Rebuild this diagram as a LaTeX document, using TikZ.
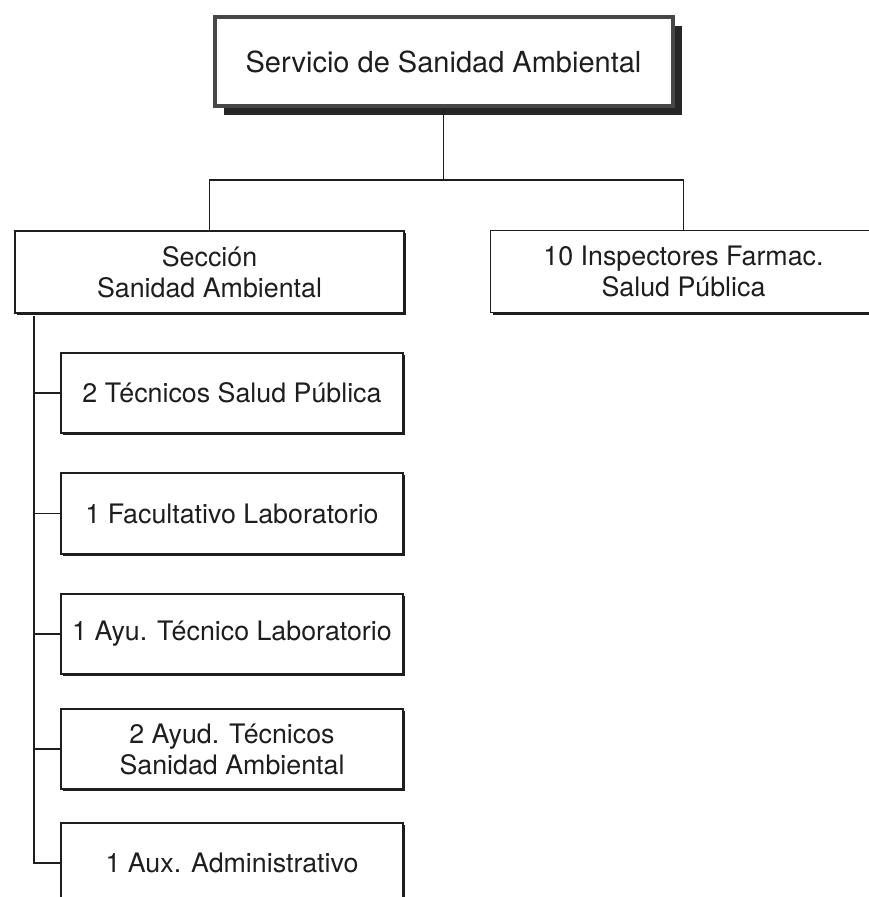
\documentclass[tikz,border=0pt]{standalone}
\usepackage{fontspec}
\setmainfont{TeX Gyre Heros}
\usetikzlibrary{shadows}
\definecolor{ink}{HTML}{1E1E1E}
\begin{document}
\begin{tikzpicture}[x=1pt,y=-1pt,
  box/.style={draw=ink, line width=1.6pt, fill=white, inner sep=0pt, align=center,
    font=\fontsize{26.8}{31}\selectfont, text=ink,
    drop shadow={shadow xshift=2.2pt, shadow yshift=-2.2pt, fill=ink, opacity=1}},
  titlebox/.style={draw=black!72, line width=4pt, fill=white, inner sep=0pt, align=center,
    font=\fontsize{29}{34}\selectfont, text=ink,
    drop shadow={shadow xshift=9pt, shadow yshift=-9pt, fill=black!85, opacity=1}},
  conn/.style={draw=ink, line width=1.6pt}]
\useasboundingbox (0,0) rectangle (869,897);
\clip (0,0) rectangle (869,897);

\node[titlebox, minimum width=458pt, minimum height=89pt] (top) at (443.5,61.5) {Servicio de Sanidad Ambiental};

\node[box, minimum width=389.5pt, minimum height=82.5pt] (sec) at (209.5,272) {Sección\\Sanidad Ambiental};
\node[box, minimum width=386pt, minimum height=82pt] (insp) at (683.5,271.5) {10 Inspectores Farmac.\\Salud Pública};

\node[box, minimum width=342.5pt, minimum height=80.5pt] (b1) at (232,393) {2 Técnicos Salud Pública};
\node[box, minimum width=342.5pt, minimum height=81.5pt] (b2) at (232,513.5) {1 Facultativo Laboratorio};
\node[box, minimum width=342.5pt, minimum height=80.5pt] (b3) at (232,634) {1 Ayu. Técnico Laboratorio};
\node[box, minimum width=342.5pt, minimum height=80.5pt] (b4) at (232,749) {2 Ayud. Técnicos\\Sanidad Ambiental};
\node[box, minimum width=342.5pt, minimum height=80.5pt] (b5) at (232,863) {1 Aux. Administrativo};

\coordinate (busy) at (0,180);
\coordinate (spine) at (34,316);

\draw[conn] (top.south) -- (top.south |- busy);
\draw[conn] (sec.north) |- (busy -| insp.north) -- (insp.north);

\draw[conn] (spine) |- (b5.west);
\foreach \b in {b1,b2,b3,b4}
  \draw[conn] (\b.west) -- (\b.west -| spine);
\end{tikzpicture}
\end{document}
